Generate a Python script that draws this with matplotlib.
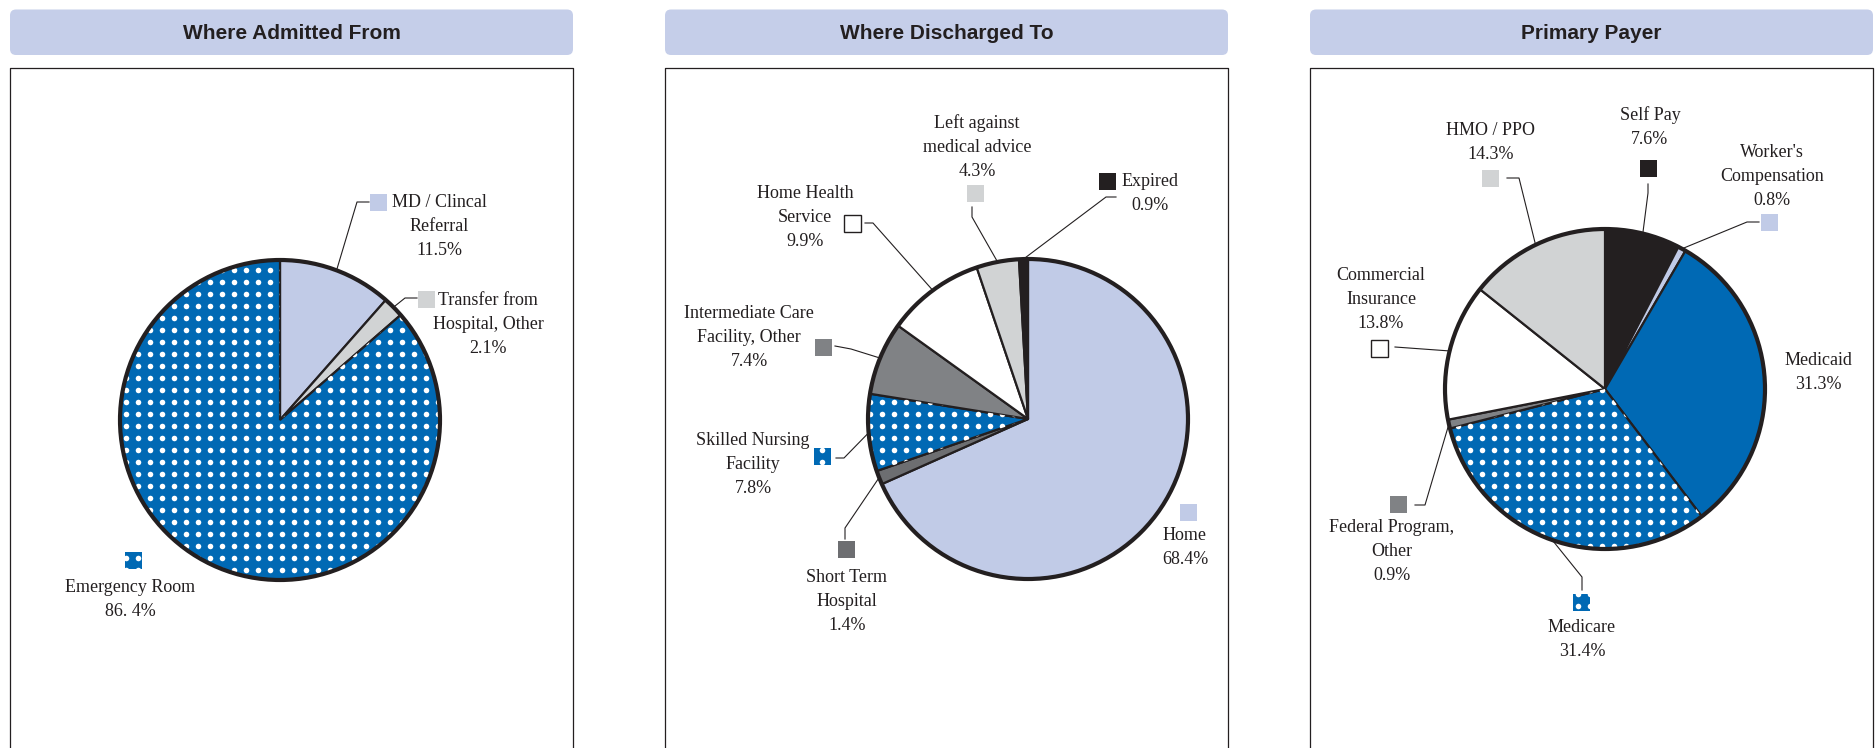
import numpy as np
import matplotlib.pyplot as plt
from matplotlib.patches import Rectangle, FancyBboxPatch, Circle

# ---- data -------------------------------------------------------------
titles = ['Where Admitted From', 'Where Discharged To', 'Primary Payer']

admit_names = ['MD / Clincal\nReferral', 'Transfer from\nHospital, Other', 'Emergency Room']
admit_pct = [11.5, 2.1, 86.4]
admit_text = ['11.5%', '2.1%', '86. 4%']

disch_names = ['Home', 'Short Term\nHospital', 'Skilled Nursing\nFacility',
               'Intermediate Care\nFacility, Other', 'Home Health\nService',
               'Left against\nmedical advice', 'Expired']
disch_pct = [68.4, 1.4, 7.8, 7.4, 9.9, 4.3, 0.9]

payer_names = ['Self Pay', "Worker's\nCompensation", 'Medicaid', 'Medicare',
               'Federal Program,\nOther', 'Commercial\nInsurance', 'HMO / PPO']
payer_pct = [7.6, 0.8, 31.3, 31.4, 0.9, 13.8, 14.3]

# ---- styles -----------------------------------------------------------
INK = '#231f20'
LBLUE = '#c1cbe7'
BLUE = '#0069b4'
LGRAY = '#d1d3d4'
MGRAY = '#808285'
DGRAY = '#6d6e71'
BAR = '#c5cee9'
DOTS = 'dots'

admit_colors = [LBLUE, LGRAY, DOTS]
disch_colors = [LBLUE, DGRAY, DOTS, MGRAY, 'white', LGRAY, INK]
payer_colors = [INK, LBLUE, BLUE, DOTS, MGRAY, 'white', LGRAY]

SERIF = ['Liberation Serif', 'DejaVu Serif']
SANS = ['Liberation Sans Narrow', 'Liberation Sans', 'DejaVu Sans']

W, H = 1875, 748
fig = plt.figure(figsize=(W / 100, H / 100), dpi=100)
ax = fig.add_axes([0, 0, 1, 1])

panels = [(10, 573), (665, 1228), (1310, 1873)]
for (x0, x1), t in zip(panels, titles):
    ax.add_patch(FancyBboxPatch((x0 + 4, 13.5), x1 - x0 - 8, 37.5,
                                boxstyle='round,pad=4,rounding_size=6',
                                fc=BAR, ec='none'))
    ax.plot([x0, x0, x1, x1], [760, 68, 68, 760], color=INK, lw=0.9)
    ax.text((x0 + x1) / 2, 33, t, ha='center', va='center', fontsize=15,
            fontweight='bold', color=INK, family=SANS)


def dot_fill(patch, x0, x1, y0, y1, step=12):
    gx = np.arange(np.floor(x0 / step) * step + 6, x1 + step, step)
    gy = np.arange(np.floor(y0 / step) * step + 6, y1 + step, step)
    xx, yy = np.meshgrid(gx, gy)
    sc = ax.scatter(xx.ravel(), yy.ravel(), s=16, c='white', lw=0, zorder=3)
    sc.set_clip_path(patch)


def draw_pie(values, colors, center, r):
    fcs = [BLUE if c == DOTS else c for c in colors]
    wedges, _ = ax.pie(values, colors=fcs, startangle=-90, counterclock=True,
                       center=center, radius=r, frame=True,
                       wedgeprops=dict(edgecolor=INK, linewidth=1.6))
    for w, c in zip(wedges, colors):
        w.set_zorder(2)
        if c == DOTS:
            dot_fill(w, center[0] - r, center[0] + r, center[1] - r, center[1] + r)
    ax.add_patch(Circle(center, r, fc='none', ec=INK, lw=3, zorder=4))
    return wedges


def edge_point(w):
    th = np.deg2rad((w.theta1 + w.theta2) / 2)
    return w.center[0] + w.r * np.cos(th), w.center[1] + w.r * np.sin(th)


def label(text, x, y, sq=None, color=None, path=None, wedge=None):
    for i, line in enumerate(text.split('\n')):
        ax.text(x, y + 24 * i, line, ha='center', va='center', fontsize=13,
                color=INK, family=SERIF)
    if sq is not None:
        s = 17
        fc = BLUE if color == DOTS else color
        ec = INK if color == 'white' else 'none'
        rect = Rectangle((sq[0] - s / 2, sq[1] - s / 2), s, s, fc=fc, ec=ec,
                         lw=1, zorder=3)
        ax.add_patch(rect)
        if color == DOTS:
            dot_fill(rect, sq[0] - s, sq[0] + s, sq[1] - s, sq[1] + s)
    if path is not None:
        pts = list(path) + [edge_point(wedge)]
        ax.plot([p[0] for p in pts], [p[1] for p in pts], color=INK, lw=0.8,
                zorder=5)


# ---- pie 1 ------------------------------------------------------------
w1 = draw_pie(admit_pct, admit_colors, (280, 420), 160)
lay1 = [
    dict(x=439, y=202, sq=(378, 202), path=[(369, 202), (357, 202)]),
    dict(x=488, y=300, sq=(426, 299), path=[(417, 298), (405, 298)]),
    dict(x=130, y=588, sq=(133, 560), path=None),
]
for i, L in enumerate(lay1):
    label(admit_names[i] + '\n' + admit_text[i], L['x'], L['y'], L['sq'],
          admit_colors[i], L['path'], w1[i])

# ---- pie 2 ------------------------------------------------------------
w2 = draw_pie(disch_pct, disch_colors, (1028, 419), 160)
lay2 = [
    dict(x=1185, y=536, sq=(1188, 512), path=None),
    dict(x=847, y=577, sq=(846, 549), path=[(845, 539), (845, 528)]),
    dict(x=753, y=440, sq=(822, 456), path=[(836, 458), (844, 458)]),
    dict(x=749, y=313, sq=(823, 347), path=[(835, 346), (851, 349)]),
    dict(x=805, y=193, sq=(852, 223), path=[(865, 223), (873, 223)]),
    dict(x=977, y=123, sq=(975, 193), path=[(972, 207), (972, 217)]),
    dict(x=1150, y=181, sq=(1107, 181), path=[(1116, 197), (1106, 197)]),
]
for i, L in enumerate(lay2):
    label(disch_names[i] + '\n' + f'{disch_pct[i]}%', L['x'], L['y'], L['sq'],
          disch_colors[i], L['path'], w2[i])

# ---- pie 3 ------------------------------------------------------------
w3 = draw_pie(payer_pct, payer_colors, (1605, 389), 160)
lay3 = [
    dict(x=1650, y=115, sq=(1648, 168), path=[(1648, 184), (1648, 193)]),
    dict(x=1772, y=152, sq=(1769, 222), path=[(1759, 222), (1747, 222)]),
    dict(x=1818, y=360, sq=None, path=None),
    dict(x=1582, y=627, sq=(1581, 602), path=[(1582, 590), (1582, 577)]),
    dict(x=1392, y=528, sq=(1398, 504), path=[(1415, 505), (1425, 505)]),
    dict(x=1381, y=275, sq=(1379, 348), path=[(1395, 347)]),
    dict(x=1491, y=130, sq=(1490, 178), path=[(1507, 178), (1519, 178)]),
]
for i, L in enumerate(lay3):
    label(payer_names[i] + '\n' + f'{payer_pct[i]}%', L['x'], L['y'], L['sq'],
          payer_colors[i], L['path'], w3[i])

ax.set_xlim(0, W)
ax.set_ylim(H, 0)
ax.set_aspect('equal')
ax.axis('off')
fig.savefig('out.png', dpi=100, facecolor='white')
